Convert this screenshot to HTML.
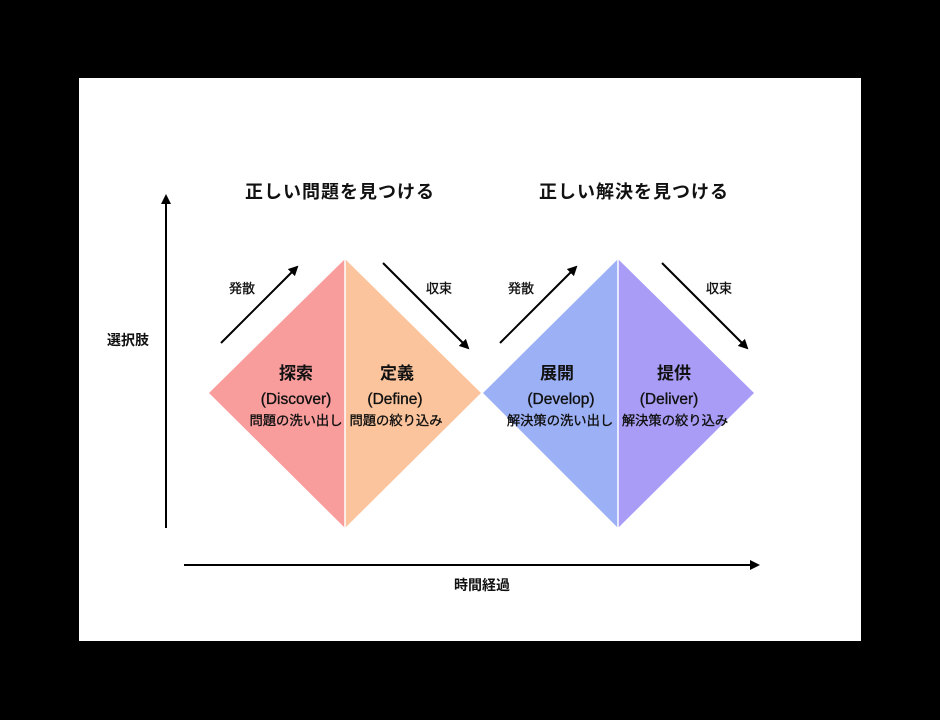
<!DOCTYPE html>
<html><head><meta charset="utf-8"><style>
html,body{margin:0;padding:0;background:#000;width:940px;height:720px;overflow:hidden}
svg{display:block}
text{font-family:"Liberation Sans","Noto Sans CJK JP",sans-serif;fill:#111;text-anchor:middle}
.m{stroke:#111;stroke-width:0.35}
</style></head><body>
<svg width="940" height="720" viewBox="0 0 940 720">
<defs><marker id="a" markerWidth="10" markerHeight="10" refX="8" refY="5" orient="auto" markerUnits="userSpaceOnUse"><path d="M0,0 L10,5 L0,10 z" fill="#000"/></marker></defs>
<rect x="79" y="78" width="782" height="563" fill="#fff"/>
<polygon points="209,393 345,259 345,528" fill="#F99C9C"/>
<polygon points="345,259 481,393 345,528" fill="#FBC49C"/>
<polygon points="483,393 618,259 618,528" fill="#9CB0F6"/>
<polygon points="618,259 754,393 618,528" fill="#A99CF6"/>
<line x1="345" y1="259" x2="345" y2="528" stroke="#fff" stroke-width="1.5"/>
<line x1="618" y1="259" x2="618" y2="528" stroke="#fff" stroke-width="1.5"/>
<g stroke="#000" stroke-width="2" marker-end="url(#a)">
<line x1="221" y1="343" x2="297" y2="267"/>
<line x1="383" y1="263" x2="468" y2="348"/>
<line x1="500" y1="343" x2="576" y2="267"/>
<line x1="662" y1="263" x2="747" y2="348"/>
<line x1="166" y1="528" x2="166" y2="196"/>
<line x1="184" y1="565" x2="758" y2="565"/>
</g>
<text x="340" y="198" font-size="18" font-weight="bold" letter-spacing="1">正しい問題を見つける</text>
<text x="634" y="198" font-size="18" font-weight="bold" letter-spacing="1">正しい解決を見つける</text>
<text x="128" y="345" font-size="14" font-weight="bold">選択肢</text>
<text x="482" y="590" font-size="14" font-weight="bold">時間経過</text>
<g font-size="13" class="m"><text x="242" y="293">発散</text><text x="439" y="293">収束</text><text x="521" y="293">発散</text><text x="719" y="293">収束</text></g>
<g font-size="17" font-weight="bold"><text x="296" y="379">探索</text><text x="397" y="379">定義</text><text x="557" y="379">展開</text><text x="674" y="379">提供</text></g>
<g font-size="15.5" class="m"><text x="296" y="404">(Discover)</text><text x="395" y="404">(Define)</text><text x="561" y="404">(Develop)</text><text x="669" y="404">(Deliver)</text></g>
<g font-size="13.3" class="m"><text x="296" y="425">問題の洗い出し</text><text x="396" y="425">問題の絞り込み</text><text x="560" y="425">解決策の洗い出し</text><text x="675" y="425">解決策の絞り込み</text></g>
</svg>
</body></html>
